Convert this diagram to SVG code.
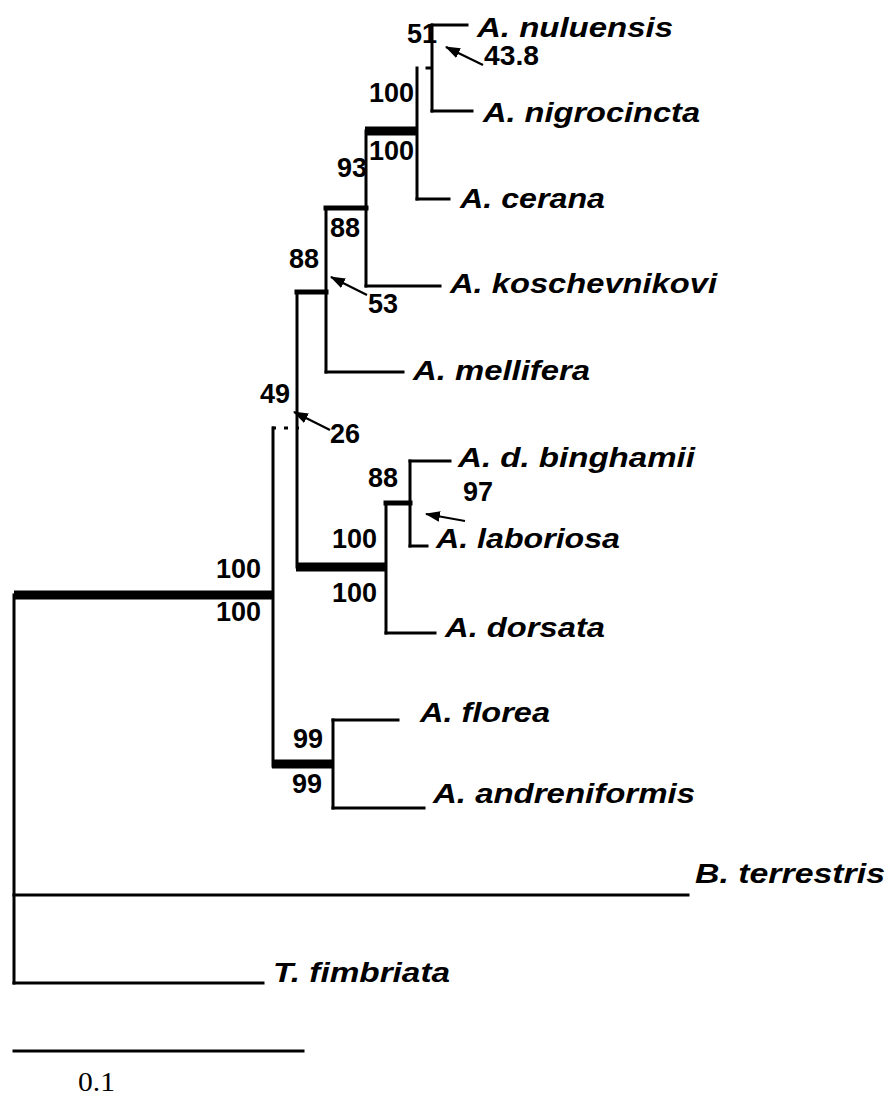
<svg xmlns="http://www.w3.org/2000/svg" width="887" height="1097" viewBox="0 0 887 1097">
<style>
.br{stroke:#000;fill:none;stroke-linecap:square}
.t{stroke-width:3}
.m{stroke-width:5}
.k{stroke-width:9;stroke-linecap:butt}
.dot{stroke:#000;stroke-width:3;fill:none;stroke-dasharray:4 8}
.ar{stroke:#000;stroke-width:2.2;fill:none;marker-end:url(#ah)}
.lab{font-family:"Liberation Sans",Arial,sans-serif;font-weight:bold;font-style:italic;font-size:28px;fill:#000}
.num{font-family:"Liberation Sans",Arial,sans-serif;font-weight:bold;font-size:27px;fill:#000}
.sc{font-family:"Liberation Serif","Times New Roman",serif;font-size:27px;fill:#000}
</style>
<defs>
<marker id="ah" viewBox="0 0 14 10" refX="13" refY="5" markerWidth="15" markerHeight="11" markerUnits="userSpaceOnUse" orient="auto"><path d="M0,0 L14,5 L0,10 z" fill="#000"/></marker>
</defs>
<rect width="887" height="1097" fill="#fff"/>
<g id="connectors">
<line class="br t" x1="14" y1="595" x2="14" y2="983"/>
<line class="br k" x1="14" y1="595" x2="273" y2="595"/>
<line class="br t" x1="14" y1="895" x2="688" y2="895"/>
<line class="br t" x1="14" y1="983" x2="263" y2="983"/>
<line class="br t" x1="273" y1="428" x2="273" y2="766"/>
<line class="dot" x1="272" y1="428" x2="299" y2="428"/>
<line class="br k" x1="272" y1="764" x2="333" y2="764"/>
<line class="br t" x1="333" y1="720" x2="333" y2="808"/>
<line class="br t" x1="333" y1="720" x2="398" y2="720"/>
<line class="br t" x1="333" y1="808" x2="424" y2="808"/>
<line class="br t" x1="297" y1="292" x2="297" y2="567"/>
<line class="br k" x1="296" y1="567" x2="386" y2="567"/>
<line class="br t" x1="386" y1="503" x2="386" y2="633"/>
<line class="br t" x1="386" y1="633" x2="435" y2="633"/>
<line class="br m" x1="386" y1="503" x2="410" y2="503"/>
<line class="br t" x1="410" y1="461" x2="410" y2="546"/>
<line class="br t" x1="410" y1="461" x2="450" y2="461"/>
<line class="br t" x1="410" y1="546" x2="427" y2="546"/>
<line class="br m" x1="297" y1="292" x2="326" y2="292"/>
<line class="br t" x1="326" y1="208" x2="326" y2="372"/>
<line class="br t" x1="326" y1="372" x2="403" y2="372"/>
<line class="br m" x1="326" y1="208" x2="366" y2="208"/>
<line class="br t" x1="366" y1="131" x2="366" y2="286"/>
<line class="br t" x1="366" y1="286" x2="440" y2="286"/>
<line class="br k" x1="365" y1="131" x2="417" y2="131"/>
<line class="br t" x1="417" y1="68" x2="417" y2="199"/>
<line class="br t" x1="417" y1="199" x2="449" y2="199"/>
<line class="br t" x1="427" y1="68" x2="431" y2="68"/>
<line class="br t" x1="432" y1="25" x2="432" y2="111"/>
<line class="br t" x1="432" y1="25" x2="467" y2="25"/>
<line class="br t" x1="432" y1="111" x2="472" y2="111"/>
<line class="br t" x1="14" y1="1051" x2="303" y2="1051"/>
<line class="ar" x1="483" y1="65" x2="446" y2="47"/>
<line class="ar" x1="367" y1="295" x2="331" y2="277"/>
<line class="ar" x1="330" y1="430" x2="294" y2="412"/>
<line class="ar" x1="465" y1="521" x2="426" y2="514"/>
</g>
<g id="taxa">
<text id="nuluensis" class="lab" x="477" y="37" textLength="196" lengthAdjust="spacingAndGlyphs">A. nuluensis</text>
<text id="nigrocincta" class="lab" x="483" y="122" textLength="217" lengthAdjust="spacingAndGlyphs">A. nigrocincta</text>
<text id="cerana" class="lab" x="460" y="208" textLength="145" lengthAdjust="spacingAndGlyphs">A. cerana</text>
<text id="koschevnikovi" class="lab" x="450" y="293" textLength="267" lengthAdjust="spacingAndGlyphs">A. koschevnikovi</text>
<text id="mellifera" class="lab" x="413" y="380" textLength="177" lengthAdjust="spacingAndGlyphs">A. mellifera</text>
<text id="binghamii" class="lab" x="458" y="467" textLength="237" lengthAdjust="spacingAndGlyphs">A. d. binghamii</text>
<text id="laboriosa" class="lab" x="436" y="548" textLength="184" lengthAdjust="spacingAndGlyphs">A. laboriosa</text>
<text id="dorsata" class="lab" x="445" y="637" textLength="160" lengthAdjust="spacingAndGlyphs">A. dorsata</text>
<text id="florea" class="lab" x="420" y="722" textLength="130" lengthAdjust="spacingAndGlyphs">A. florea</text>
<text id="andreniformis" class="lab" x="433" y="803" textLength="262" lengthAdjust="spacingAndGlyphs">A. andreniformis</text>
<text id="terrestris" class="lab" x="695" y="883" textLength="190" lengthAdjust="spacingAndGlyphs">B. terrestris</text>
<text id="fimbriata" class="lab" x="273" y="982" textLength="177" lengthAdjust="spacingAndGlyphs">T. fimbriata</text>
</g>
<g id="support">
<text class="num" x="407" y="43">51</text>
<text class="num" x="484" y="65" textLength="55" lengthAdjust="spacingAndGlyphs">43.8</text>
<text class="num" x="369" y="102">100</text>
<text class="num" x="369" y="160">100</text>
<text class="num" x="337" y="177">93</text>
<text class="num" x="330" y="237">88</text>
<text class="num" x="289" y="268">88</text>
<text class="num" x="368" y="313">53</text>
<text class="num" x="260" y="403">49</text>
<text class="num" x="330" y="443">26</text>
<text class="num" x="368" y="487">88</text>
<text class="num" x="463" y="501">97</text>
<text class="num" x="332" y="548">100</text>
<text class="num" x="332" y="602">100</text>
<text class="num" x="216" y="578">100</text>
<text class="num" x="216" y="621">100</text>
<text class="num" x="293" y="748">99</text>
<text class="num" x="292" y="793">99</text>
</g>
<g id="scale">
<text class="sc" x="78" y="1091" textLength="37" lengthAdjust="spacingAndGlyphs">0.1</text>
</g>
</svg>
